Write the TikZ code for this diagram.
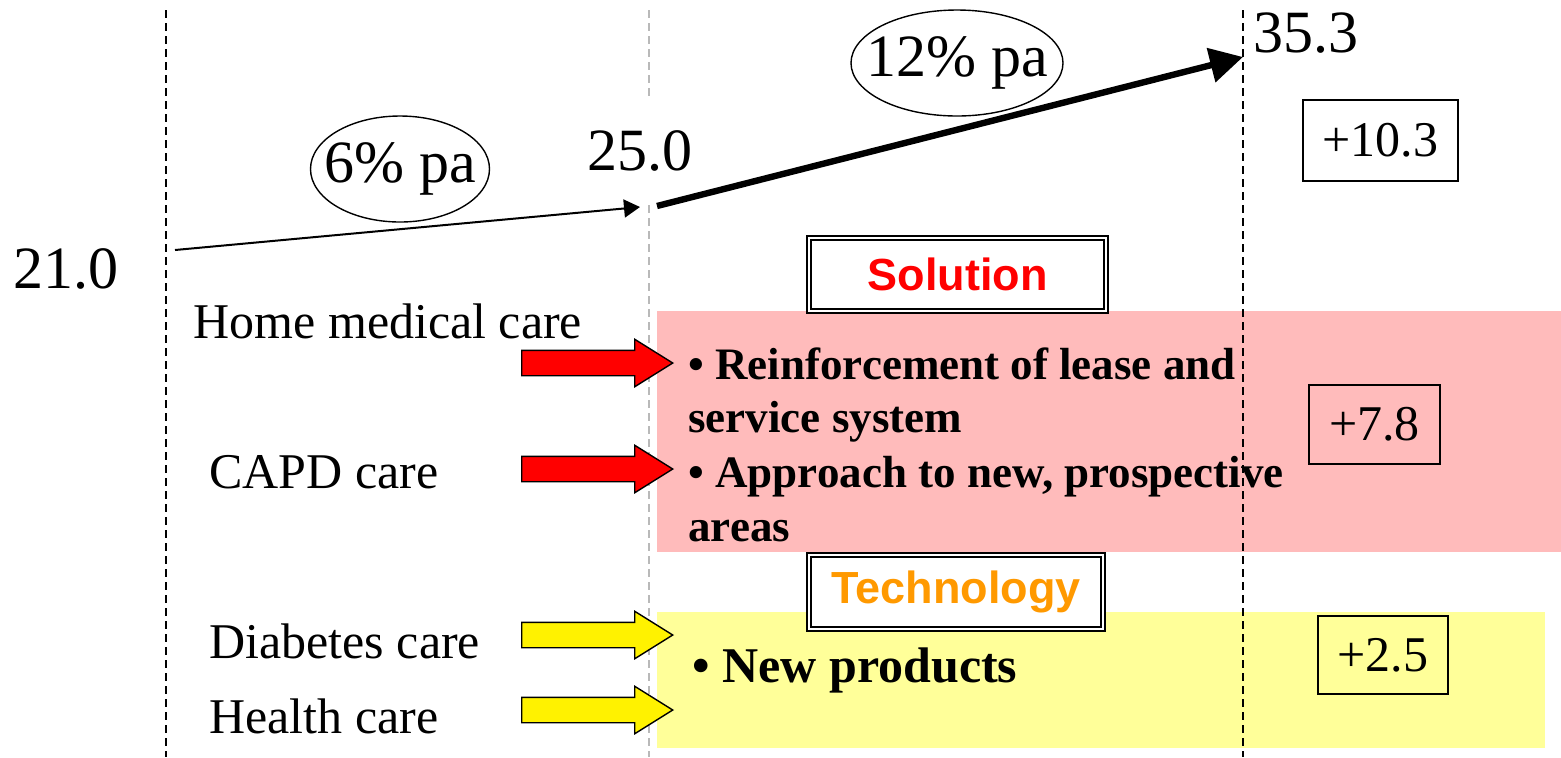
\documentclass[tikz,border=0pt]{standalone}
\usepackage{fontspec}
\setmainfont{Liberation Serif}
\setsansfont{Liberation Sans}
\usetikzlibrary{shapes.geometric,shapes.arrows,arrows.meta}
\definecolor{pinkbg}{RGB}{255,187,187}
\definecolor{yellowbg}{RGB}{255,255,153}
\definecolor{orangetxt}{RGB}{255,153,0}
\definecolor{grayline}{RGB}{185,185,185}
\tikzset{
  px/.style={x=0.5pt,y=-0.5pt},
  guide/.style={line width=0.75pt,dash pattern=on 4pt off 2.5pt},
  big/.style={font=\fontsize{30pt}{36pt}\selectfont,inner sep=0pt},
  mid/.style={font=\fontsize{25pt}{30pt}\selectfont,inner sep=0pt},
  boldtxt/.style={font=\fontsize{22.5pt}{27pt}\selectfont\bfseries,inner sep=0pt},
  rate/.style={inner sep=0pt,font=\fontsize{30pt}{36pt}\selectfont},
  rateline/.style={line width=0.7pt},
  valbox/.style={draw,line width=0.8pt,inner sep=0pt,font=\fontsize{25pt}{30pt}\selectfont},
  titlebox/.style={draw,double,line width=1.1pt,double distance=1pt,fill=white,inner sep=0pt,
     font=\fontsize{22.5pt}{27pt}\sffamily\bfseries},
  blockarrow/.style={single arrow,draw,line width=0.7pt,inner xsep=0pt,inner ysep=6pt,
     minimum height=75.5pt,single arrow head extend=5.5pt,single arrow tip angle=64,
     anchor=west},
}
\begin{document}
\begin{tikzpicture}[px]
\useasboundingbox (0,0) rectangle (1561,757);
% coloured areas
\fill[pinkbg] (657,311) rectangle (1561,552);
\fill[yellowbg] (657,612) rectangle (1545,748);
% guide lines
\draw[guide] (166,10) -- (166,757);
\draw[guide,grayline] (649,10) -- (649,757);
\draw[guide] (1243,10) -- (1243,757);
% values
\node[big,anchor=base west] (v21) at (13,288) {21.0};
\node[big,anchor=base west,fill=white,inner xsep=1pt,inner ysep=15pt] (v25) at (585,170) {25.0};
\node[big,anchor=base west] (v35) at (1253,52) {35.3};
% growth arrows
\coordinate (s1) at (175,250);
\coordinate (e1) at (640,207);
\coordinate (s2) at (657,206);
\coordinate (e2) at (1243,57);
\draw[line width=1pt,-{Triangle[length=8pt,width=9pt]}] (s1) -- (e1);
\draw[line width=3.2pt,-{Triangle[length=16.5pt,width=17pt]}] (s2) -- (e2);
\node[rate] (r6) at (400,169) {6\% pa};
\node[rate] (r12) at (957,63) {12\% pa};
\draw[rateline] (r6.center) ellipse [x radius=89.5, y radius=53];
\draw[rateline] (r12.center) ellipse [x radius=106, y radius=53];
% value boxes
\node[valbox,minimum width=77.5pt,minimum height=40.5pt] (b103) at (1380.5,140.5) {+10.3};
\node[valbox,minimum width=65.5pt,minimum height=39.5pt] (b78) at (1374.5,424.5) {+7.8};
\node[valbox,minimum width=65pt,minimum height=39pt] (b25) at (1383,655) {+2.5};
% title boxes
\node[titlebox,text=red,minimum width=148.5pt,minimum height=36.5pt] (sol) at (957.5,274.5) {Solution};
\node[titlebox,text=orangetxt,minimum width=147pt,minimum height=37pt] (tech) at (956,592) {Technology};
% left labels
\node[mid,anchor=base west] (home) at (193,338) {Home medical care};
\node[mid,anchor=base west] (capd) at (209,488) {CAPD care};
\node[mid,anchor=base west] (diab) at (209,658) {Diabetes care};
\node[mid,anchor=base west] (health) at (209,733) {Health care};
% block arrows
\node[blockarrow,fill=red] (a1) at (521,363) {};
\node[blockarrow,fill=red] (a2) at (521,469) {};
\node[blockarrow,fill=yellow] (a3) at (521,635) {};
\node[blockarrow,fill=yellow] (a4) at (521,710) {};
% solution text
\node[boldtxt,anchor=base west] (t1) at (688,379) {• Reinforcement of lease and};
\node[boldtxt,anchor=base west] (t2) at (688,432) {service system};
\node[boldtxt,anchor=base west] (t3) at (688,487) {• Approach to new, prospective};
\node[boldtxt,anchor=base west] (t4) at (688,541) {areas};
\node[mid,font=\fontsize{25pt}{30pt}\selectfont\bfseries,anchor=base west] (t5) at (692,682) {• New products};
\end{tikzpicture}
\end{document}
